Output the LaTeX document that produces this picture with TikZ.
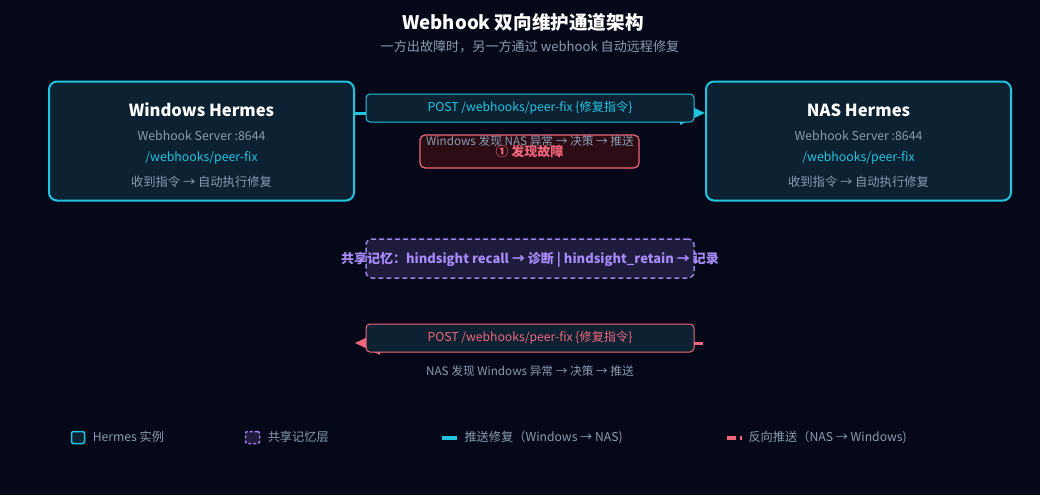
\documentclass[tikz,border=0pt]{standalone}
\usepackage{fontspec}
\setmainfont{Noto Sans CJK SC}
\usepackage{tikz}
\usetikzlibrary{arrows.meta,calc,positioning}
\definecolor{BgNavy}{HTML}{050818}
\definecolor{BoxFill}{HTML}{0C2233}
\definecolor{HookCyan}{HTML}{22C5E0}
\definecolor{SoftGray}{HTML}{8A9BB0}
\definecolor{AlertRed}{HTML}{F0677C}
\definecolor{AlertFill}{HTML}{2C0D16}
\definecolor{MemPurple}{HTML}{9B7FE8}
\definecolor{MemText}{HTML}{A78BFA}
\definecolor{MemFill}{HTML}{1E1B3C}

\begin{document}
\begin{tikzpicture}[x=1pt,y=-1pt,
      hermes/.style={draw=HookCyan,fill=BoxFill,line width=2pt,rounded corners=8pt,minimum width=305pt,minimum height=119pt},
      boxtitle/.style={text=white,font=\fontsize{16.6}{18}\selectfont\bfseries},
      boxline/.style={text=SoftGray,font=\fontsize{12.3}{14}\selectfont},
      msgbox/.style={fill=BoxFill,line width=1pt,rounded corners=4pt,minimum width=328pt,minimum height=28pt,font=\fontsize{12.2}{14}\selectfont},
      push/.style={-{Triangle[length=25pt,width=23pt]},draw=HookCyan,line width=3pt},
      pushback/.style={-{Triangle[length=25pt,width=23pt]},draw=AlertRed,line width=3pt},
      legendtext/.style={text=SoftGray,font=\fontsize{12.2}{14}\selectfont,anchor=west}
    ]
      \fill[BgNavy] (0,0) rectangle (1040,495);
      \useasboundingbox (0,0) rectangle (1040,495);

      \node[text=white,font=\fontsize{18.6}{20}\selectfont\bfseries] (title) at (523,22) {Webhook 双向维护通道架构};
      \node[text=SoftGray,font=\fontsize{13.1}{15}\selectfont] (subtitle) at (530,47) {一方出故障时，另一方通过 webhook 自动远程修复};

      % the two Hermes instances
      \node[hermes] (win) at (201.5,141) {};
      \node[hermes] (nas) at (858.5,141) {};
      \foreach \inst/\name in {win/Windows Hermes,nas/NAS Hermes} {
        \node[boxtitle] (\inst-title) at ($(\inst.north)+(0,29.5)$) {\name};
        \node[boxline] (\inst-server) at ($(\inst.north)+(0,55)$) {Webhook Server :8644};
        \node[boxline,text=HookCyan] (\inst-path) at ($(\inst.north)+(0,77)$) {/webhooks/peer-fix};
        \node[boxline] (\inst-cmd) at ($(\inst.north)+(0,101)$) {收到指令 → 自动执行修复};
      }

      % push windows -> nas
      \coordinate (pushfrom) at ($(win.east)+(0,-28)$);
      \draw[push] (pushfrom) -- (pushfrom -| nas.west);
      \node[msgbox,draw=HookCyan,text=HookCyan] (pushmsg) at (530,108) {POST /webhooks/peer-fix \{修复指令\}};

      \node[draw=AlertRed,fill=AlertFill,line width=1.2pt,rounded corners=5pt,minimum width=219pt,minimum height=33pt,
            text=AlertRed,font=\fontsize{13}{14}\selectfont\bfseries] (fault) at (529.5,151.5) {\raisebox{-6pt}{① 发现故障}};
      \node[boxline,font=\fontsize{11.7}{13}\selectfont] (pushnote) at (530,141) {Windows 发现 NAS 异常 → 决策 → 推送};

      % shared memory layer
      \node[draw=MemPurple,fill=MemFill,dash pattern=on 5pt off 3pt,line width=1.5pt,rounded corners=6pt,
            minimum width=328pt,minimum height=39pt] (memory) at (530,258.5) {};
      \node[text=MemText,font=\fontsize{13}{14}\selectfont\bfseries] (memtext) at (530,259.5) {共享记忆：hindsight recall → 诊断 | hindsight\_retain → 记录};

      % push nas -> windows
      \coordinate (backfrom) at (703,343);
      \draw[pushback] (backfrom) -- (backfrom -| win.east);
      \node[msgbox,draw=AlertRed,text=AlertRed] (backmsg) at (530,338) {POST /webhooks/peer-fix \{修复指令\}};
      \node[boxline,font=\fontsize{11.7}{13}\selectfont] (backnote) at (530,371.5) {NAS 发现 Windows 异常 → 决策 → 推送};

      % legend
      \node[draw=HookCyan,fill=BoxFill,line width=1.5pt,rounded corners=2pt,minimum width=13pt,minimum height=12pt,inner sep=0pt] (keyhermes) at (78,437.5) {};
      \node[legendtext,right=4pt of keyhermes,yshift=0.5pt] {Hermes 实例};
      \node[draw=MemPurple,fill=MemFill,dash pattern=on 3pt off 2pt,line width=1.5pt,rounded corners=2pt,minimum width=14pt,minimum height=12pt,inner sep=0pt] (keymemory) at (252.5,437.5) {};
      \node[legendtext,right=4pt of keymemory,yshift=0.5pt] {共享记忆层};
      \coordinate (keypush) at (442,437.5);
      \draw[HookCyan,line width=4pt] (keypush) -- ++(15,0) coordinate (keypushend);
      \node[legendtext,right=4pt of keypushend,yshift=0.5pt] {推送修复（Windows → NAS)};
      \coordinate (keyback) at (727,437.5);
      \draw[AlertRed,line width=4pt,dash pattern=on 9pt off 4pt] (keyback) -- ++(15,0) coordinate (keybackend);
      \node[legendtext,right=3pt of keybackend,yshift=0.5pt] {反向推送（NAS → Windows)};
    \end{tikzpicture}
\end{document}
